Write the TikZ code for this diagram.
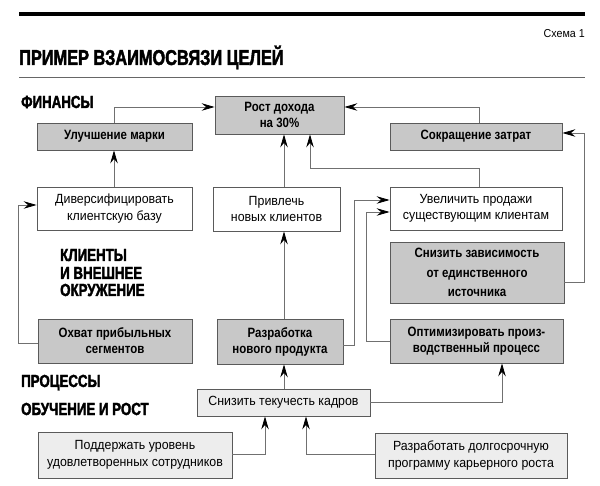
\documentclass[tikz,border=0pt]{standalone}
\usepackage{fontspec}
\setmainfont{Liberation Sans}
\newfontfamily\regf[FakeStretch=0.93]{Liberation Sans}
\newfontfamily\boldf[FakeStretch=0.85]{Liberation Sans}
\newfontfamily\headf[FakeStretch=0.76,FakeBold=2]{Liberation Sans}
\usetikzlibrary{arrows.meta}
\definecolor{boxdark}{HTML}{C8C8C8}
\definecolor{boxlight}{HTML}{EDEDED}
\definecolor{edgecol}{HTML}{5A5A5A}
\definecolor{wirecol}{HTML}{707070}
\tikzset{
  box/.style={draw=edgecol, line width=0.8pt, inner sep=0pt, align=center},
  darkbox/.style={box, fill=boxdark, font=\boldf\bfseries\fontsize{13.5}{16}\selectfont},
  whitebox/.style={box, fill=white, font=\regf\fontsize{13.3}{16.5}\selectfont},
  lightbox/.style={box, fill=boxlight, font=\regf\fontsize{13.3}{16.5}\selectfont},
  wire/.style={draw=wirecol, line width=0.8pt},
  arr/.style={wire, -{Stealth[length=13pt,width=7.5pt,inset=4.5pt,color=black]}},
  sect/.style={anchor=base west, inner sep=0pt, font=\headf\bfseries\fontsize{17.5}{18}\selectfont},
}
\begin{document}
\begin{tikzpicture}[x=1pt,y=-1pt]
\fill[white] (0,0) rectangle (600,486);
\useasboundingbox (0,0) rectangle (600,486);

% rules
\draw[line width=4pt] (19,14) -- (585,14);
\draw[line width=0.8pt, black!60] (19,77) -- (585,77);

% headings
\node[anchor=base east, inner sep=0pt, font=\regf\fontsize{11.5}{13}\selectfont] (scheme) at (585,38) {Схема 1};
\node[anchor=base west, inner sep=0pt, font=\headf\bfseries\fontsize{21.5}{22}\selectfont] (title) at (19,65) {ПРИМЕР ВЗАИМОСВЯЗИ ЦЕЛЕЙ};
\node[sect, font=\headf\bfseries\fontsize{17.5}{18}\selectfont] (fin) at (21,108) {ФИНАНСЫ};
\node[sect] (kl1) at (60,261) {КЛИЕНТЫ};
\node[sect] (kl2) at (60,279) {И ВНЕШНЕЕ};
\node[sect] (kl3) at (60,296) {ОКРУЖЕНИЕ};
\node[sect] (proc) at (21,387) {ПРОЦЕССЫ};
\node[sect] (obuch) at (21,415) {ОБУЧЕНИЕ И РОСТ};

% boxes
\node[darkbox, minimum width=129pt, minimum height=38pt] (rost) at (279.5,115) {Рост дохода\\на 30\%};
\node[darkbox, minimum width=155pt, minimum height=27pt] (ulu) at (114.5,136.5) {Улучшение марки};
\node[darkbox, minimum width=172pt, minimum height=27pt] (sokr) at (476,136.5) {Сокращение затрат};
\node[whitebox, minimum width=155pt, minimum height=43pt] (divers) at (114.5,208.5) {Диверсифицировать\\клиентскую базу};
\node[whitebox, minimum width=127pt, minimum height=44pt] (privl) at (276.5,209) {Привлечь\\новых клиентов};
\node[whitebox, minimum width=172pt, minimum height=43pt] (uvel) at (476,208.5) {Увеличить продажи\\существующим клиентам};
\node[darkbox, minimum width=174pt, minimum height=61pt, font=\boldf\bfseries\fontsize{13.5}{19.5}\selectfont] (snzav) at (477,272.5) {Снизить зависимость\\от единственного\\источника};
\node[darkbox, minimum width=154pt, minimum height=44pt] (ohvat) at (115,341) {Охват прибыльных\\сегментов};
\node[darkbox, minimum width=126pt, minimum height=45pt] (razr) at (280,341.5) {Разработка\\нового продукта};
\node[darkbox, minimum width=173pt, minimum height=44pt] (optim) at (476.5,341) {Оптимизировать произ-\\водственный процесс};
\node[lightbox, minimum width=173pt, minimum height=27pt] (snt) at (283.5,402.5) {Снизить текучесть кадров};
\node[lightbox, minimum width=194pt, minimum height=46pt] (podd) at (135,455) {Поддержать уровень\\удовлетворенных сотрудников};
\node[lightbox, minimum width=192pt, minimum height=45pt] (razrab) at (471,455.5) {Разработать долгосрочную\\программу карьерного роста};

% helper coordinates
\coordinate (xA) at (284,0);
\coordinate (xB) at (310,0);
\coordinate (xC) at (479,0);
\coordinate (xL) at (18,0);
\coordinate (xD) at (114,0);
\coordinate (xE) at (354,0);
\coordinate (xF) at (366,0);
\coordinate (xR) at (584,0);
\coordinate (xG) at (502,0);
\coordinate (xH) at (265,0);
\coordinate (xI) at (306,0);
\coordinate (y107) at (0,107);
\coordinate (y168) at (0,168);
\coordinate (y205) at (0,205);
\coordinate (y343) at (0,343);
\coordinate (y345) at (0,345);
\coordinate (y200) at (0,200);
\coordinate (y212) at (0,212);
\coordinate (y341) at (0,341);
\coordinate (y282) at (0,282);
\coordinate (y133) at (0,133);
\coordinate (y402) at (0,402);
\coordinate (y454) at (0,454);

% connectors
\draw[arr] (ulu.north -| xD) |- (rost.west |- y107);
\draw[arr] (sokr.north -| xC) |- (rost.east |- y107);
\draw[arr] (divers.north -| xD) -- (ulu.south -| xD);
\draw[arr] (privl.north -| xA) -- (rost.south -| xA);
\draw[arr] (uvel.north -| xC) |- (xB |- y168) -- (rost.south -| xB);
\draw[arr] (ohvat.west |- y343) -| (xL |- y205) -- (divers.west |- y205);
\draw[arr] (razr.north -| xA) -- (privl.south -| xA);
\draw[arr] (razr.east |- y345) -| (xE |- y200) -- (uvel.west |- y200);
\draw[arr] (optim.west |- y341) -| (xF |- y212) -- (uvel.west |- y212);
\draw[arr] (snzav.east |- y282) -| (xR |- y133) -- (sokr.east |- y133);
\draw[arr] (snt.north -| xA) -- (razr.south -| xA);
\draw[arr] (snt.east |- y402) -| (optim.south -| xG);
\draw[arr] (podd.east |- y454) -| (snt.south -| xH);
\draw[arr] (razrab.west |- y454) -| (snt.south -| xI);
\end{tikzpicture}
\end{document}
